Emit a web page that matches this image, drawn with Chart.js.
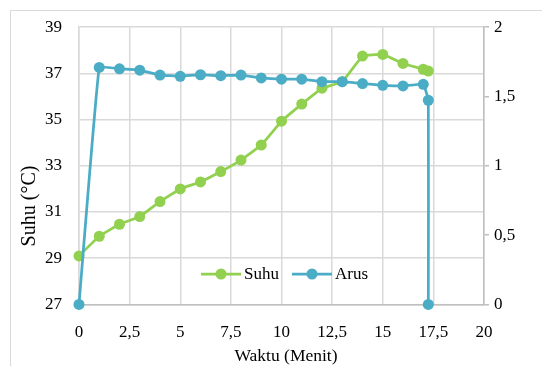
<!DOCTYPE html>
<html>
<head>
<meta charset="utf-8">
<script src="https://cdn.jsdelivr.net/npm/chart.js@4.4.0/dist/chart.umd.min.js"></script>
<style>
  html, body { margin: 0; padding: 0; background: #fff; }
  #wrap { position: relative; width: 542px; height: 366px; overflow: hidden; }
  #frame { position: absolute; left: 10px; top: 10px; width: 700px; height: 500px;
           border-left: 1.5px solid #d9d9d9; border-top: 1.5px solid #d9d9d9; }
  canvas { position: absolute; left: 0; top: 0; }
  .pre { font-family: 'Liberation Serif'; position: absolute; left: -9999px; }
</style>
</head>
<body>
<div id="wrap">
  <div id="frame"></div>
  <canvas id="c" width="542" height="366"></canvas>
</div>
<span class="pre">Suhu 0123456789,</span>
<script>
// ---- data ----
const timeSuhu = [0, 1, 2, 3, 4, 5, 6, 7, 8, 9, 10, 11, 12, 13, 14, 15, 16, 17, 17.25];
const suhu     = [29.1, 29.95, 30.47, 30.8, 31.45, 32.0, 32.3, 32.75, 33.25, 33.9, 34.93, 35.67, 36.36, 36.64, 37.75, 37.82, 37.43, 37.18, 37.1];
const timeArus = [0, 1, 2, 3, 4, 5, 6, 7, 8, 9, 10, 11, 12, 13, 14, 15, 16, 17, 17.25, 17.25];
const arus     = [0, 1.71, 1.70, 1.69, 1.655, 1.646, 1.657, 1.65, 1.655, 1.634, 1.625, 1.625, 1.607, 1.607, 1.593, 1.581, 1.576, 1.588, 1.473, 0];
const xTicks   = [0, 2.5, 5, 7.5, 10, 12.5, 15, 17.5, 20];
const leftTicks  = [27, 29, 31, 33, 35, 37, 39];
const rightTicks = [0, 0.5, 1, 1.5, 2];
const seriesNames = ['Suhu', 'Arus'];
const xTitle = 'Waktu (Menit)';
const yTitle = 'Suhu (°C)';

const GREEN = '#92D050';
const BLUE = '#4BACC6';
const FONT = "'Liberation Serif', serif";
const fmt = v => String(v).replace('.', ',');

const suhuPts = timeSuhu.map((t, i) => ({ x: t, y: suhu[i] }));
const arusPts = timeArus.map((t, i) => ({ x: t, y: arus[i] }));

const decor = {
  id: 'decor',
  afterDraw(chart) {
    const ctx = chart.ctx;
    ctx.save();
    ctx.fillStyle = '#000';
    // y title
    ctx.save();
    ctx.translate(30, 206);
    ctx.rotate(-Math.PI / 2);
    ctx.font = '20px ' + FONT;
    ctx.textAlign = 'center';
    ctx.textBaseline = 'middle';
    ctx.fillText(yTitle, 0, 0);
    ctx.restore();
    // x title
    ctx.font = '17.5px ' + FONT;
    ctx.textAlign = 'center';
    ctx.textBaseline = 'middle';
    ctx.fillText(xTitle, 286, 356);
    // legend
    const items = [
      { name: seriesNames[0], color: GREEN, x0: 201 },
      { name: seriesNames[1], color: BLUE, x0: 292 }
    ];
    const ly = 274;
    ctx.font = '17px ' + FONT;
    ctx.textAlign = 'left';
    items.forEach(it => {
      ctx.strokeStyle = it.color;
      ctx.lineWidth = 2.75;
      ctx.beginPath();
      ctx.moveTo(it.x0, ly);
      ctx.lineTo(it.x0 + 40, ly);
      ctx.stroke();
      ctx.fillStyle = it.color;
      ctx.beginPath();
      ctx.arc(it.x0 + 20, ly, 5.5, 0, Math.PI * 2);
      ctx.fill();
      ctx.fillStyle = '#000';
      ctx.fillText(it.name, it.x0 + 43, ly + 1);
    });
    ctx.restore();
  }
};

function build() {
  new Chart(document.getElementById('c'), {
    type: 'line',
    data: {
      datasets: [
        {
          label: seriesNames[1], data: arusPts, yAxisID: 'y2', clip: false,
          borderColor: BLUE, backgroundColor: BLUE,
          pointBackgroundColor: BLUE, pointBorderColor: BLUE,
          borderWidth: 2.75, pointRadius: 5.5, pointBorderWidth: 0,
          tension: 0.08, fill: false
        },
        {
          label: seriesNames[0], data: suhuPts, yAxisID: 'y', clip: false,
          borderColor: GREEN, backgroundColor: GREEN,
          pointBackgroundColor: GREEN, pointBorderColor: GREEN,
          borderWidth: 2.75, pointRadius: 5.5, pointBorderWidth: 0,
          tension: 0.08, fill: false
        }
      ]
    },
    options: {
      responsive: false,
      animation: false,
      layout: { padding: { top: 26, left: 0, right: 0, bottom: 0 } },
      plugins: { legend: { display: false }, tooltip: { enabled: false } },
      scales: {
        x: {
          type: 'linear', min: 0, max: 20,
          afterBuildTicks: s => { s.ticks = xTicks.map(v => ({ value: v })); },
          afterFit: s => { s.height = 61.6; },
          ticks: { font: { family: FONT, size: 17 }, color: '#000', padding: 18,
                   maxRotation: 0, callback: v => fmt(v) },
          grid: { color: '#d9d9d9', lineWidth: 1.5, drawTicks: false },
          border: { color: '#bfbfbf', width: 1.5 }
        },
        y: {
          position: 'left', min: 27, max: 39,
          afterBuildTicks: s => { s.ticks = leftTicks.map(v => ({ value: v })); },
          afterFit: s => { s.width = 79; },
          ticks: { font: { family: FONT, size: 17 }, color: '#000', padding: 17,
                   callback: v => fmt(v) },
          grid: { color: '#d9d9d9', lineWidth: 1.5, drawTicks: false },
          border: { color: '#d9d9d9', width: 1.5 }
        },
        y2: {
          position: 'right', min: 0, max: 2,
          afterBuildTicks: s => { s.ticks = rightTicks.map(v => ({ value: v })); },
          afterFit: s => { s.width = 58; },
          ticks: { font: { family: FONT, size: 17 }, color: '#000', padding: 5,
                   callback: v => fmt(v) },
          grid: { drawOnChartArea: false, drawTicks: true, tickLength: 5,
                  color: '#bfbfbf', lineWidth: 1.5 },
          border: { color: '#bfbfbf', width: 1.5 }
        }
      }
    },
    plugins: [decor]
  });
}

let built = false;
function go() { if (!built) { built = true; build(); } }
if (document.fonts && document.fonts.load) {
  Promise.all([
    document.fonts.load("17px 'Liberation Serif'"),
    document.fonts.load("20px 'Liberation Serif'")
  ]).then(go, go);
  setTimeout(go, 1500);
} else {
  go();
}
</script>
</body>
</html>
